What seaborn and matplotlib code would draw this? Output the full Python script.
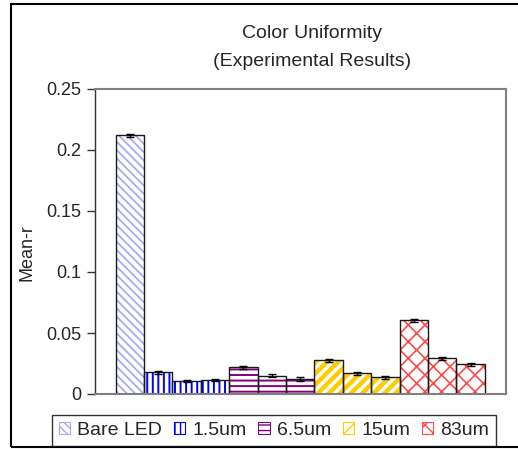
import matplotlib
matplotlib.use("Agg")
import matplotlib.pyplot as plt
import seaborn as sns
import pandas as pd
import numpy as np
from matplotlib.patches import Patch, Rectangle

# ---- data ----
groups = ["Bare LED", "1.5um", "1.5um", "1.5um", "6.5um", "6.5um", "6.5um",
          "15um", "15um", "15um", "83um", "83um", "83um"]
values = [0.212, 0.0178, 0.0107, 0.0115, 0.0219, 0.0150, 0.0123,
          0.0276, 0.0170, 0.0137, 0.0604, 0.0293, 0.0243]
errors = [0.0013, 0.0013, 0.0010, 0.0012, 0.0012, 0.0013, 0.0013,
          0.0013, 0.0012, 0.0013, 0.0011, 0.0012, 0.0012]
legend_labels = ["Bare LED", "1.5um", "6.5um", "15um", "83um"]
hatch_colors = ["#A9A9F2", "#0000FF", "#800080", "#FFCC00", "#FF4A4A"]
hatches = ["\\\\\\\\", "|||", "---", "///", "xx"]
hatch_widths = [1.3, 1.4, 1.4, 3.2, 1.2]
yticks = [0, 0.05, 0.1, 0.15, 0.2, 0.25]
ytick_labels = ["0", "0.05", "0.1", "0.15", "0.2", "0.25"]

sns.set_theme(style="white")
plt.rcParams["font.family"] = ["Liberation Sans", "DejaVu Sans"]

W, H = 518, 449
fig = plt.figure(figsize=(W / 100, H / 100), dpi=100)
ax = fig.add_axes([95 / W, (H - 394) / H, 411 / W, 305 / H])

df = pd.DataFrame({"pos": np.arange(len(values)), "group": groups, "value": values})
cmap = dict(zip(legend_labels, hatch_colors))
hatch_map = dict(zip(legend_labels, hatches))
hw_map = dict(zip(legend_labels, hatch_widths))

# hatched fill layer
sns.barplot(data=df, x="pos", y="value", hue="group", hue_order=legend_labels,
            palette=cmap, dodge=False, width=1.0, native_scale=True,
            errorbar=None, legend=False, ax=ax)
fill_patches = sorted(list(ax.patches), key=lambda p: p.get_x())
for p, g in zip(fill_patches, groups):
    p.set_facecolor("white")
    p.set_edgecolor(cmap[g])
    p.set_linewidth(0)
    p.set_hatch(hatch_map[g])
    if hasattr(p, "set_hatch_linewidth"):
        p.set_hatch_linewidth(hw_map[g])
n_fill = len(ax.patches)

# outline layer
sns.barplot(data=df, x="pos", y="value", hue="group", hue_order=legend_labels,
            palette=cmap, dodge=False, width=1.0, native_scale=True,
            errorbar=None, legend=False, ax=ax)
for p in ax.patches[n_fill:]:
    p.set_facecolor("none")
    p.set_edgecolor("#1a1a1a")
    p.set_linewidth(1.0)

ax.errorbar(df["pos"], df["value"], yerr=errors, fmt="none", ecolor="black",
            elinewidth=1.0, capsize=3, capthick=1.0, zorder=5)

ax.set_xlim(-1.23, 13.25)
ax.set_ylim(0, 0.25)
ax.set_yticks(yticks)
ax.set_yticklabels(ytick_labels, fontsize=13)
ax.set_xticks([])
ax.set_xlabel("")
ax.set_ylabel("")
ax.tick_params(axis="y", which="both", direction="out", length=6, width=1,
               color="#333333", left=True, pad=4)
for side, sp in ax.spines.items():
    sp.set_visible(True)
    sp.set_linewidth(1.5)
    sp.set_color("#808080")
ax.spines["left"].set_color("#333333")
ax.spines["left"].set_linewidth(1.0)

# titles and y-label
fig.text(312 / W, 1 - 33 / H, "Color Uniformity", ha="center", va="center", fontsize=14)
fig.text(312 / W, 1 - 62 / H, "(Experimental Results)", ha="center", va="center", fontsize=14)
fig.text(27 / W, 1 - 253 / H, "Mean-r", ha="center", va="center", rotation=90, fontsize=13)

# outer frame
fig.patches.append(Rectangle((11 / W, 2 / H), 1.2, 1 - 6 / H, transform=fig.transFigure,
                             fill=False, edgecolor="black", linewidth=1.5, zorder=0))

# legend
handles = [Patch(facecolor="white", edgecolor=c, hatch=h, linewidth=0.8, label=l)
           for l, c, h in zip(legend_labels, hatch_colors, hatches)]
leg = fig.legend(handles=handles, loc="upper left", bbox_to_anchor=(52 / W, 1 - 415 / H),
                 ncol=5, frameon=True, fontsize=14, handlelength=0.6, handleheight=0.6,
                 handletextpad=0.35, columnspacing=0.6, borderpad=0.35, fancybox=False,
                 borderaxespad=0)
leg.get_frame().set_edgecolor("black")
leg.get_frame().set_linewidth(1.0)

fig.savefig("out.png", dpi=100)
